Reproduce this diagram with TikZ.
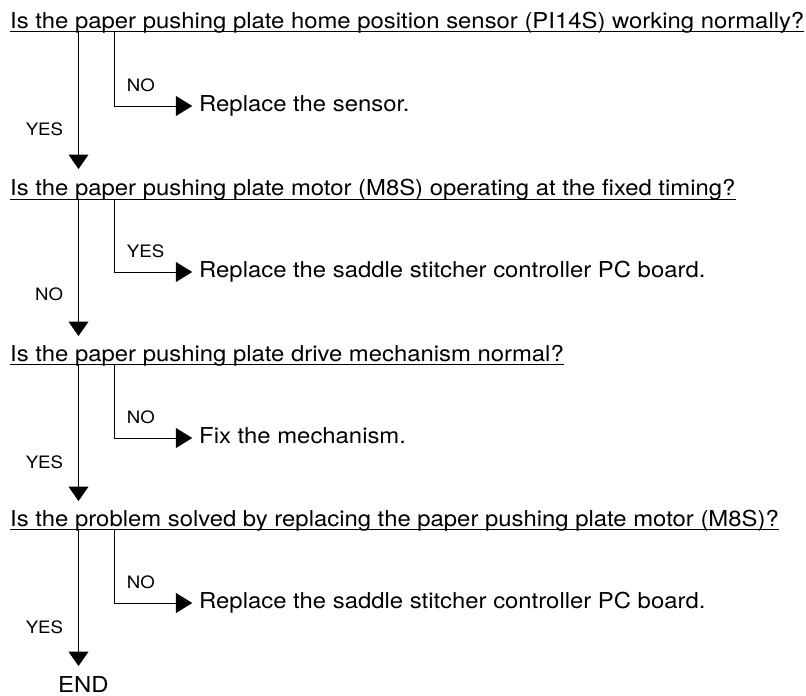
\documentclass[tikz,border=0pt]{standalone}
\usepackage{fontspec}
\setmainfont{TeX Gyre Heros}[FakeStretch=1.09]
\usetikzlibrary{arrows.meta}
\begin{document}
\begin{tikzpicture}[x=1pt,y=-1pt,
  q/.style={inner sep=0pt, anchor=base west, font=\fontsize{21.9}{26}\selectfont},
  ans/.style={inner sep=0pt, anchor=base west, font=\fontsize{21.9}{26}\selectfont},
  lblr/.style={inner sep=0pt, anchor=base west, font=\fontsize{17.1}{20}\selectfont},
  lbll/.style={inner sep=0pt, anchor=base east, font=\fontsize{17.1}{20}\selectfont},
  ln/.style={line width=1pt},
  varr/.style={line width=1pt, -{Triangle[length=14.5pt,width=20pt]}},
  harr/.style={line width=1pt, -{Triangle[length=16.5pt,width=20pt]}}]
\useasboundingbox (0,0) rectangle (806,696);
% block 1
\node[q] (q1) at (10,28.3) {Is the paper pushing plate home position sensor (PI14S) working normally?};
\draw[ln] ([yshift=-3.4pt]q1.base west) -- ([yshift=-3.4pt]q1.base east);
\coordinate (m1) at (78.5,31.7);
\coordinate (b1) at (114,31.7);
\coordinate (t1) at (192.3,106);
\coordinate (d1) at (78.5,169);
\draw[harr] (b1) |- (t1);
\draw[varr] (m1) -- (d1);
\node[ans] (a1) at (199,111) {Replace the sensor.};
\node[lblr] (n1) at (126.7,91) {NO};
\node[lbll] (y1) at (63.3,135) {YES};
% block 2
\node[q] (q2) at (10,195.7) {Is the paper pushing plate motor (M8S) operating at the fixed timing?};
\draw[ln] ([yshift=-3.4pt]q2.base west) -- ([yshift=-3.4pt]q2.base east);
\coordinate (m2) at (78.5,199.1);
\coordinate (b2) at (114,199.1);
\coordinate (t2) at (192.3,272);
\coordinate (d2) at (78.5,336);
\draw[harr] (b2) |- (t2);
\draw[varr] (m2) -- (d2);
\node[ans] (a2) at (199,277) {Replace the saddle stitcher controller PC board.};
\node[lblr] (n2) at (126.7,257) {YES};
\node[lbll] (y2) at (63.3,300) {NO};
% block 3
\node[q] (q3) at (10,361) {Is the paper pushing plate drive mechanism normal?};
\draw[ln] ([yshift=-3.4pt]q3.base west) -- ([yshift=-3.4pt]q3.base east);
\coordinate (m3) at (78.5,364.4);
\coordinate (b3) at (114,364.4);
\coordinate (t3) at (192.3,438);
\coordinate (d3) at (78.5,501);
\draw[harr] (b3) |- (t3);
\draw[varr] (m3) -- (d3);
\node[ans] (a3) at (199,443) {Fix the mechanism.};
\node[lblr] (n3) at (126.7,423) {NO};
\node[lbll] (y3) at (63.3,468) {YES};
% block 4
\node[q] (q4) at (10,526) {Is the problem solved by replacing the paper pushing plate motor (M8S)?};
\draw[ln] ([yshift=-3.4pt]q4.base west) -- ([yshift=-3.4pt]q4.base east);
\coordinate (m4) at (78.5,529.4);
\coordinate (b4) at (114,529.4);
\coordinate (t4) at (192.3,603);
\coordinate (d4) at (78.5,666);
\draw[harr] (b4) |- (t4);
\draw[varr] (m4) -- (d4);
\node[ans] (a4) at (199,608) {Replace the saddle stitcher controller PC board.};
\node[lblr] (n4) at (126.7,588) {NO};
\node[lbll] (y4) at (63.3,633) {YES};
\node[ans] (e) at (58,692) {END};
\end{tikzpicture}
\end{document}
